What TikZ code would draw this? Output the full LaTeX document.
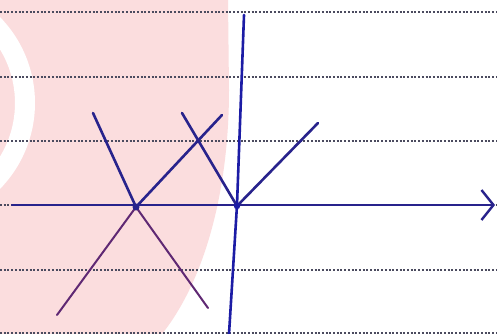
\documentclass[tikz,border=0pt]{standalone}
\usetikzlibrary{arrows.meta}
\definecolor{pinkbg}{RGB}{251,221,222}
\definecolor{navy}{RGB}{40,35,140}
\definecolor{vblue}{RGB}{28,28,165}
\definecolor{purp}{RGB}{95,40,115}
\definecolor{dotc}{RGB}{75,75,95}
\begin{document}
\begin{tikzpicture}[x=1pt,y=-1pt,
  ruled/.style={draw=dotc, line width=1.7pt, dash pattern=on 2pt off 1.7pt},
  pen/.style={draw=navy, line width=2.6pt, line cap=round},
  vpen/.style={draw=vblue, line width=2.6pt, line cap=round},
  thinpen/.style={draw=purp, line width=2pt, line cap=round}]
\useasboundingbox (0,0) rectangle (497,334);
\fill[white] (0,0) rectangle (497,334);
\fill[pinkbg] (0,0) -- (228,0) -- (229,90) .. controls (229,190) and (205,280) .. (162,334) -- (0,334) -- cycle;
\begin{scope}
  \clip (0,0) rectangle (497,334);
  \draw[white, line width=20pt] (-88,103) circle[radius=113];
\end{scope}
\foreach \yy in {12,77,141,205,270,333} \draw[ruled] (0,\yy) -- (497,\yy);
% points
\coordinate (axL) at (12,205);
\coordinate (axR) at (495,205);
\coordinate (vt) at (244,15);
\coordinate (vm) at (237,205);
\coordinate (vb) at (229,334);
\coordinate (v1) at (136,207);
\coordinate (v2) at (237,206);
\coordinate (a1) at (93,113);
\coordinate (a2) at (222,115);
\coordinate (a3) at (57,315);
\coordinate (a4) at (208,308);
\coordinate (b1) at (182,113);
\coordinate (b2) at (318,123);
% lower purple lines
\draw[thinpen] (v1) -- (a3);
\draw[thinpen] (v1) -- (a4);
% axis
\draw[pen, line width=2.4pt, -{Straight Barb[length=12pt,width=30pt]}] (axL) -- (axR);
% vertical line
\draw[vpen] (vt) -- (vm) -- (vb);
% upper lines
\draw[pen] (a1) -- (v1);
\draw[pen] (a2) -- (v1);
\draw[pen] (b1) -- (v2);
\draw[pen] (b2) -- (v2);
\fill[navy] (v1) circle[radius=3.5];
\fill[vblue] (v2) circle[radius=3.2];
\end{tikzpicture}
\end{document}
